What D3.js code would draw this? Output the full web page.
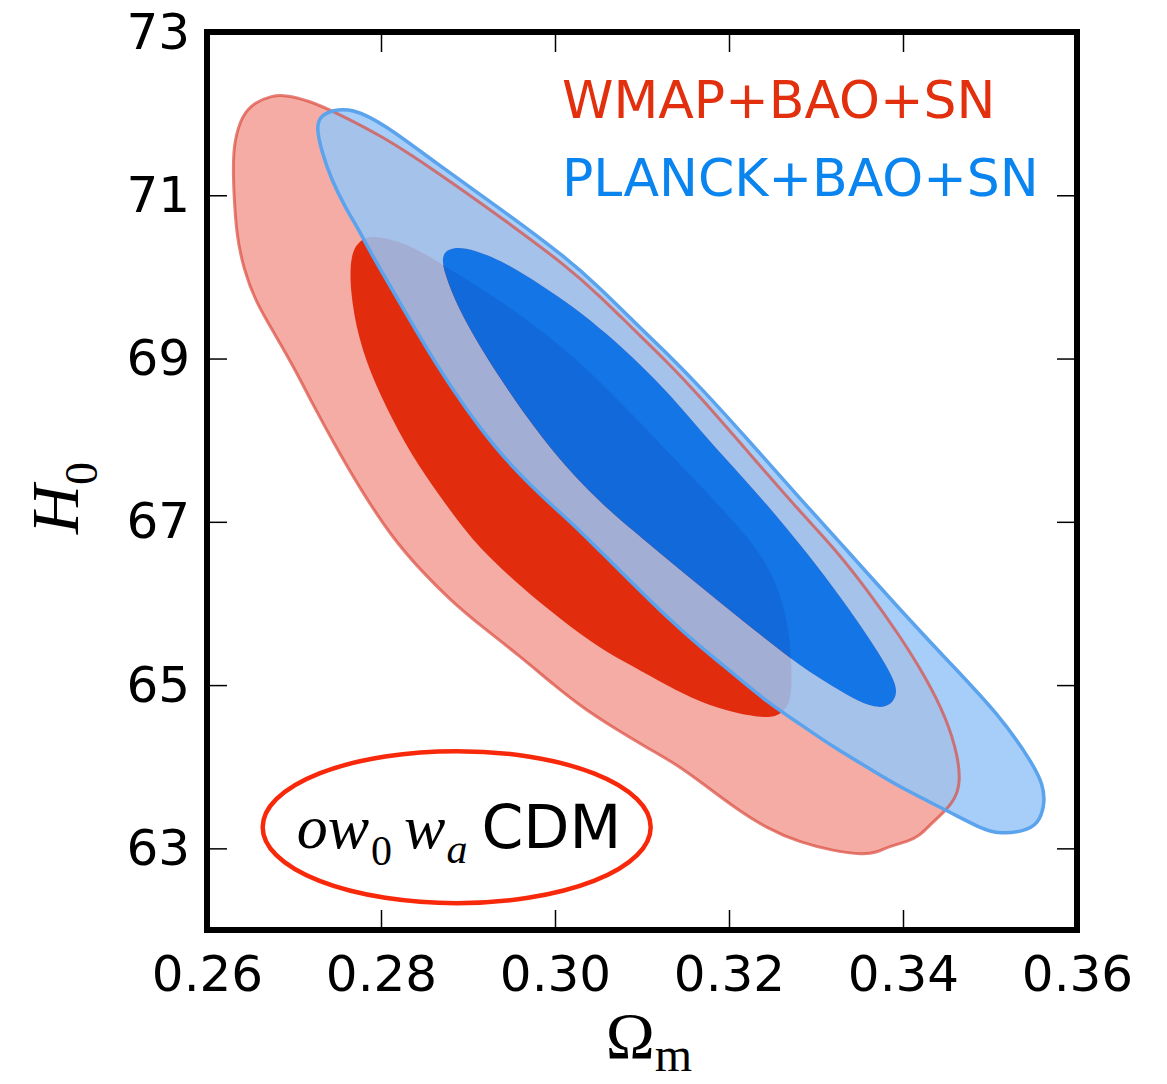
<!DOCTYPE html>
<html>
<head>
<meta charset="utf-8">
<script src="https://cdn.jsdelivr.net/npm/d3@7"></script>
<style>
    body { margin: 0; background: #fff; }
    svg { display: block; }
    text { font-family: "DejaVu Sans", sans-serif; }
</style>
</head>
<body>
<svg id="chart"></svg>
<script>
// contours, [Omega_m, H0]
const wmapOuter = [
    [0.2640, 71.98], [0.2655, 72.14], [0.2675, 72.22], [0.2689, 72.23], [0.2717, 72.16],
    [0.2747, 72.02], [0.2804, 71.71], [0.2861, 71.31], [0.2938, 70.73], [0.3015, 70.12],
    [0.3053, 69.75], [0.3090, 69.36], [0.3129, 68.96], [0.3167, 68.53], [0.3224, 67.83],
    [0.3282, 67.12], [0.3320, 66.69], [0.3358, 66.18], [0.3396, 65.61], [0.3427, 65.08],
    [0.3450, 64.59], [0.3463, 64.14], [0.3466, 63.81], [0.3460, 63.60], [0.3445, 63.42],
    [0.3431, 63.29], [0.3420, 63.16], [0.3405, 63.08], [0.3385, 63.03], [0.3370, 62.95],
    [0.3354, 62.92], [0.3320, 62.97], [0.3282, 63.07], [0.3244, 63.24], [0.3205, 63.51],
    [0.3174, 63.76], [0.3140, 64.03], [0.3103, 64.25], [0.3067, 64.48], [0.3031, 64.73],
    [0.3000, 64.99], [0.2959, 65.36], [0.2912, 65.75], [0.2881, 66.03], [0.2846, 66.40],
    [0.2812, 66.82], [0.2778, 67.37], [0.2747, 67.94], [0.2721, 68.45], [0.2701, 68.87],
    [0.2679, 69.28], [0.2656, 69.69], [0.2642, 70.10], [0.2634, 70.51], [0.2631, 71.00],
    [0.2630, 71.32], [0.2631, 71.65]
];
const wmapInner = [
    [0.2778, 70.47], [0.2792, 70.51], [0.2831, 70.41], [0.2869, 70.16], [0.2946, 69.66],
    [0.3022, 69.04], [0.3098, 68.22], [0.3129, 67.86], [0.3205, 67.03], [0.3244, 66.51],
    [0.3262, 66.02], [0.3270, 65.61], [0.3273, 65.00], [0.3269, 64.75], [0.3259, 64.64],
    [0.3244, 64.59], [0.3205, 64.66], [0.3167, 64.79], [0.3129, 64.99], [0.3090, 65.23],
    [0.3053, 65.44], [0.3007, 65.80], [0.2961, 66.20], [0.2915, 66.66], [0.2889, 67.00],
    [0.2850, 67.57], [0.2820, 68.10], [0.2792, 68.71], [0.2774, 69.24], [0.2764, 69.85],
    [0.2765, 70.31]
];
const planckOuter = [
    [0.2726, 71.81], [0.2729, 71.96], [0.2743, 72.04], [0.2766, 72.07], [0.2804, 71.87],
    [0.2861, 71.41], [0.2938, 70.83], [0.3015, 70.22], [0.3053, 69.85], [0.3090, 69.46],
    [0.3129, 69.06], [0.3167, 68.65], [0.3224, 67.98], [0.3282, 67.28], [0.3339, 66.61],
    [0.3396, 65.93], [0.3453, 65.28], [0.3511, 64.63], [0.3548, 64.06], [0.3561, 63.78],
    [0.3563, 63.57], [0.3558, 63.35], [0.3545, 63.22], [0.3511, 63.17], [0.3488, 63.25],
    [0.3453, 63.45], [0.3396, 63.75], [0.3358, 64.00], [0.3320, 64.24], [0.3282, 64.52],
    [0.3244, 64.79], [0.3205, 65.14], [0.3167, 65.47], [0.3129, 65.83], [0.3090, 66.24],
    [0.3053, 66.63], [0.3022, 66.96], [0.2984, 67.32], [0.2944, 67.75], [0.2913, 68.16],
    [0.2883, 68.61], [0.2855, 69.08], [0.2831, 69.51], [0.2810, 69.90], [0.2791, 70.24],
    [0.2775, 70.57], [0.2760, 70.83], [0.2743, 71.19], [0.2732, 71.53]
];
const planckInner = [
    [0.2869, 70.27], [0.2881, 70.37], [0.2907, 70.34], [0.2946, 70.16], [0.2984, 69.90],
    [0.3022, 69.63], [0.3060, 69.30], [0.3098, 68.93], [0.3133, 68.55], [0.3167, 68.12],
    [0.3205, 67.67], [0.3244, 67.21], [0.3282, 66.72], [0.3320, 66.20], [0.3350, 65.75],
    [0.3373, 65.38], [0.3388, 65.10], [0.3394, 64.92], [0.3388, 64.77], [0.3373, 64.71],
    [0.3350, 64.79], [0.3320, 64.98], [0.3282, 65.23], [0.3244, 65.55], [0.3205, 65.88],
    [0.3167, 66.21], [0.3129, 66.54], [0.3090, 66.89], [0.3058, 67.18], [0.3022, 67.56],
    [0.2984, 68.04], [0.2946, 68.61], [0.2915, 69.12], [0.2889, 69.61], [0.2873, 70.04]
];

const xTicks = [0.26, 0.28, 0.30, 0.32, 0.34, 0.36];
const yTicks = [63, 65, 67, 69, 71, 73];
const xDomain = [0.26, 0.36];
const yDomain = [62, 73];
const legendLabels = ["WMAP+BAO+SN", "PLANCK+BAO+SN"];
const modelTag = { cx: 0.2887, cy: 63.26 };

const width = 1167, height = 1084;
const margin = { top: 32, right: 90, bottom: 154, left: 207 };
const innerW = width - margin.left - margin.right;
const innerH = height - margin.top - margin.bottom;

const svg = d3.select("#chart").attr("width", width).attr("height", height);
svg.append("rect").attr("width", width).attr("height", height).attr("fill", "#fff");

const x = d3.scaleLinear().domain(xDomain).range([0, innerW]);
const y = d3.scaleLinear().domain(yDomain).range([innerH, 0]);

const g = svg.append("g").attr("transform", `translate(${margin.left},${margin.top})`);

// traced points are a bit noisy, so a smoothing spline reads better than an interpolating one
const line = d3.line()
    .x(d => x(d[0]))
    .y(d => y(d[1]))
    .curve(d3.curveBasisClosed);

// WMAP filled contours
g.append("path").attr("d", line(wmapOuter)).attr("fill", "#f4aca5");
g.append("path").attr("d", line(wmapInner)).attr("fill", "#e22c0e");

// PLANCK filled contours, semi transparent over WMAP
g.append("path")
    .attr("d", line(planckOuter) + line(planckInner))
    .attr("fill-rule", "evenodd")
    .attr("fill", "rgb(150,197,247)")
    .attr("fill-opacity", 0.85);
g.append("path")
    .attr("d", line(planckInner))
    .attr("fill", "rgb(0,112,236)")
    .attr("fill-opacity", 0.92);

// outlines
g.append("path").attr("d", line(wmapOuter))
    .attr("fill", "none").attr("stroke", "#dc4b3e").attr("stroke-opacity", 0.7).attr("stroke-width", 3);
g.append("path").attr("d", line(planckOuter))
    .attr("fill", "none").attr("stroke", "#5ba3ec").attr("stroke-width", 3.5);

// axes with inward ticks
const fmt = d3.format(".2f");
const xAxis = g.append("g").attr("transform", `translate(0,${innerH})`)
    .call(d3.axisBottom(x).tickValues(xTicks).tickFormat(fmt).tickSizeInner(-20).tickSizeOuter(0).tickPadding(25));
const xTop = g.append("g")
    .call(d3.axisTop(x).tickValues(xTicks).tickFormat("").tickSizeInner(-20).tickSizeOuter(0));
const yAxis = g.append("g")
    .call(d3.axisLeft(y).tickValues(yTicks).tickFormat(d3.format("d")).tickSizeInner(-20).tickSizeOuter(0).tickPadding(17));
const yRight = g.append("g").attr("transform", `translate(${innerW},0)`)
    .call(d3.axisRight(y).tickValues(yTicks).tickFormat("").tickSizeInner(-20).tickSizeOuter(0));

[xAxis, xTop, yAxis, yRight].forEach(a => {
    a.select(".domain").remove();
    a.selectAll(".tick line").attr("stroke", "#000").attr("stroke-width", 1.5);
    a.selectAll(".tick text")
        .attr("fill", "#000")
        .style("font-family", "'DejaVu Sans', sans-serif")
        .style("font-size", "50px");
});

// frame
g.append("rect")
    .attr("width", innerW).attr("height", innerH)
    .attr("fill", "none").attr("stroke", "#000").attr("stroke-width", 6);

// legend
const legendColors = ["#e2300e", "#0a84ee"];
g.selectAll("text.legend")
    .data(legendLabels)
    .join("text")
    .attr("class", "legend")
    .attr("x", 355)
    .attr("y", (d, i) => 86 + i * 78)
    .attr("fill", (d, i) => legendColors[i])
    .style("font-size", "52px")
    .text(d => d);

// model tag with ellipse
const serif = "'Liberation Serif', 'DejaVu Serif', serif";
const tag = g.append("g").attr("transform", `translate(${x(modelTag.cx)},${y(modelTag.cy)})`);
tag.append("ellipse")
    .attr("rx", 194).attr("ry", 76)
    .attr("fill", "none").attr("stroke", "#f8280a").attr("stroke-width", 4.5);
const tagText = tag.append("text").attr("x", -160).attr("y", 21).style("font-family", serif);
tagText.append("tspan").style("font-style", "italic").style("font-size", "62px").text("ow");
tagText.append("tspan").attr("dx", 2).attr("dy", 17).style("font-size", "42px").text("0");
tagText.append("tspan").attr("dx", 12).attr("dy", -17).style("font-style", "italic")
    .style("font-size", "62px").text("w");
tagText.append("tspan").attr("dx", 1).attr("dy", 15).style("font-style", "italic")
    .style("font-size", "42px").text("a");
tagText.append("tspan").attr("dx", 14).attr("dy", -15)
    .style("font-family", "'DejaVu Sans', sans-serif").style("font-size", "60px").text("CDM");

// axis titles
const yTitle = svg.append("text")
    .attr("transform", `translate(78,498) rotate(-90)`)
    .attr("text-anchor", "middle")
    .style("font-family", serif);
yTitle.append("tspan").style("font-style", "italic").style("font-size", "68px").text("H");
yTitle.append("tspan").attr("dy", 19).style("font-size", "46px").text("0");

const xTitle = svg.append("text")
    .attr("x", margin.left + innerW / 2 + 7)
    .attr("y", 1058)
    .attr("text-anchor", "middle")
    .style("font-family", serif);
xTitle.append("tspan").style("font-size", "66px").text("Ω");
xTitle.append("tspan").attr("dy", 13).style("font-size", "48px").text("m");
</script>
</body>
</html>
